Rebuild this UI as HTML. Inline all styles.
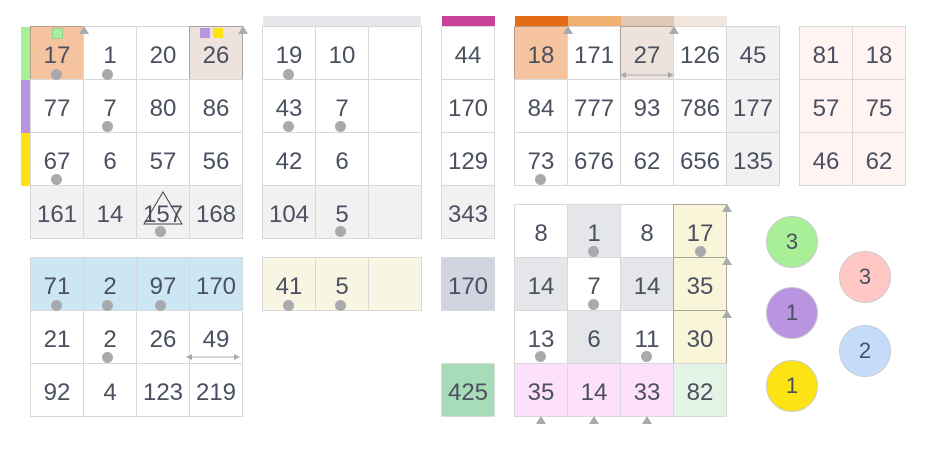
<!DOCTYPE html><html><head><style>
body{margin:0;width:925px;height:450px;background:#fff;position:relative;overflow:hidden;font-family:"Liberation Sans",sans-serif}
.c{position:absolute;width:52px;height:46px;padding-top:6px;border:1px solid #d8d8d8;margin:-1px 0 0 -1px;box-sizing:content-box;display:flex;align-items:center;justify-content:center;font-size:24px;color:#4a5060;line-height:30px}
.d{position:absolute;width:11px;height:11px;border-radius:50%;background:#a8aaad}
.b{position:absolute}
.circ{position:absolute;width:52px;height:52px;border-radius:50%;display:flex;align-items:center;justify-content:center;font-size:22px;color:#4a5060;border:1px solid #ccc;box-sizing:border-box}
.t{position:absolute;width:0;height:0;border-left:5px solid transparent;border-right:5px solid transparent;border-bottom:8px solid #a8aaad}
</style></head><body>
<!-- Grid A -->
<div class="b" style="left:21px;top:27px;width:10px;height:53px;background:#a8ef98"></div>
<div class="b" style="left:21px;top:80px;width:10px;height:53px;background:#b994e0"></div>
<div class="b" style="left:21px;top:133px;width:10px;height:53px;background:#fde314"></div>
<div class="c" style="left:31px;top:27px;background:#f5c49f;border-color:#b89a88">17</div>
<div class="c" style="left:84px;top:27px">1</div>
<div class="c" style="left:137px;top:27px">20</div>
<div class="c" style="left:190px;top:27px;background:#ede3dc;border-color:#a9a39e">26</div>
<div class="c" style="left:31px;top:80px">77</div><div class="c" style="left:84px;top:80px">7</div><div class="c" style="left:137px;top:80px">80</div><div class="c" style="left:190px;top:80px">86</div>
<div class="c" style="left:31px;top:133px">67</div><div class="c" style="left:84px;top:133px">6</div><div class="c" style="left:137px;top:133px">57</div><div class="c" style="left:190px;top:133px">56</div>
<div class="c" style="left:31px;top:186px;background:#f1f1f2">161</div><div class="c" style="left:84px;top:186px;background:#f1f1f2">14</div><div class="c" style="left:137px;top:186px;background:#f1f1f2">157</div><div class="c" style="left:190px;top:186px;background:#f1f1f2">168</div>
<div class="b" style="left:52px;top:28px;width:9px;height:9px;background:#a8ef98;border:1px solid #9c9"></div>
<div class="b" style="left:200px;top:28px;width:10px;height:10px;background:#b994e0"></div>
<div class="b" style="left:213px;top:28px;width:10px;height:10px;background:#fde314"></div>
<div class="t" style="left:79px;top:26px"></div><div class="t" style="left:238px;top:26px"></div>
<svg class="b" style="left:140px;top:190px" width="50" height="40"><polygon points="23,2 4,34 42,34" fill="none" stroke="#444" stroke-width="1"/></svg>
<div class="d" style="left:51px;top:69px"></div><div class="d" style="left:102px;top:69px"></div><div class="d" style="left:102px;top:121px"></div><div class="d" style="left:51px;top:174px"></div><div class="d" style="left:155px;top:226px"></div>
<!-- Grid B -->
<div class="c" style="left:31px;top:258px;background:#cce6f3">71</div><div class="c" style="left:84px;top:258px;background:#cce6f3">2</div><div class="c" style="left:137px;top:258px;background:#cce6f3">97</div><div class="c" style="left:190px;top:258px;background:#cce6f3">170</div>
<div class="c" style="left:31px;top:311px">21</div><div class="c" style="left:84px;top:311px">2</div><div class="c" style="left:137px;top:311px">26</div><div class="c" style="left:190px;top:311px">49</div>
<div class="c" style="left:31px;top:364px">92</div><div class="c" style="left:84px;top:364px">4</div><div class="c" style="left:137px;top:364px">123</div><div class="c" style="left:190px;top:364px">219</div>
<div class="d" style="left:51px;top:300px"></div><div class="d" style="left:102px;top:300px"></div><div class="d" style="left:155px;top:300px"></div><div class="d" style="left:102px;top:352px"></div>
<svg class="b" style="left:186px;top:352px" width="54" height="10"><line x1="3" y1="5" x2="51" y2="5" stroke="#aaa"/><polygon points="0,5 6,2 6,8" fill="#aaa"/><polygon points="54,5 48,2 48,8" fill="#aaa"/></svg>
<!-- Grid C -->
<div class="b" style="left:263px;top:16px;width:158px;height:11px;background:#e6e7ea"></div>
<div class="c" style="left:263px;top:27px">19</div><div class="c" style="left:316px;top:27px">10</div><div class="c" style="left:369px;top:27px"></div>
<div class="c" style="left:263px;top:80px">43</div><div class="c" style="left:316px;top:80px">7</div><div class="c" style="left:369px;top:80px"></div>
<div class="c" style="left:263px;top:133px">42</div><div class="c" style="left:316px;top:133px">6</div><div class="c" style="left:369px;top:133px"></div>
<div class="c" style="left:263px;top:186px;background:#f1f1f2">104</div><div class="c" style="left:316px;top:186px;background:#f1f1f2">5</div><div class="c" style="left:369px;top:186px;background:#f1f1f2"></div>
<div class="d" style="left:283px;top:69px"></div><div class="d" style="left:283px;top:121px"></div><div class="d" style="left:335px;top:121px"></div><div class="d" style="left:335px;top:226px"></div>
<!-- Grid D -->
<div class="c" style="left:263px;top:258px;background:#f8f5e3">41</div><div class="c" style="left:316px;top:258px;background:#f8f5e3">5</div><div class="c" style="left:369px;top:258px;background:#f8f5e3"></div>
<div class="d" style="left:283px;top:300px"></div><div class="d" style="left:335px;top:300px"></div>
<!-- Column E -->
<div class="b" style="left:442px;top:16px;width:53px;height:11px;background:#c8419a"></div>
<div class="c" style="left:442px;top:27px">44</div><div class="c" style="left:442px;top:80px">170</div><div class="c" style="left:442px;top:133px">129</div><div class="c" style="left:442px;top:186px;background:#f1f1f2">343</div>
<div class="c" style="left:442px;top:258px;background:#d0d5e0">170</div>
<div class="c" style="left:442px;top:364px;background:#a8dcb8">425</div>
<!-- Grid F -->
<div class="b" style="left:515px;top:16px;width:53px;height:11px;background:#e36c14"></div>
<div class="b" style="left:568px;top:16px;width:53px;height:11px;background:#f0b070"></div>
<div class="b" style="left:621px;top:16px;width:53px;height:11px;background:#dfc8b8"></div>
<div class="b" style="left:674px;top:16px;width:53px;height:11px;background:#f0e6de"></div>
<div class="c" style="left:515px;top:27px;background:#f5c49f;border-color:#b89a88">18</div><div class="c" style="left:568px;top:27px">171</div><div class="c" style="left:621px;top:27px;background:#ede3dc;border-color:#a9a39e">27</div><div class="c" style="left:674px;top:27px">126</div><div class="c" style="left:727px;top:27px;background:#f1f1f2">45</div>
<div class="c" style="left:515px;top:80px">84</div><div class="c" style="left:568px;top:80px">777</div><div class="c" style="left:621px;top:80px">93</div><div class="c" style="left:674px;top:80px">786</div><div class="c" style="left:727px;top:80px;background:#f1f1f2">177</div>
<div class="c" style="left:515px;top:133px">73</div><div class="c" style="left:568px;top:133px">676</div><div class="c" style="left:621px;top:133px">62</div><div class="c" style="left:674px;top:133px">656</div><div class="c" style="left:727px;top:133px;background:#f1f1f2">135</div>
<div class="t" style="left:563px;top:26px"></div><div class="t" style="left:669px;top:26px"></div>
<svg class="b" style="left:620px;top:70px" width="54" height="10"><line x1="3" y1="5" x2="51" y2="5" stroke="#aaa"/><polygon points="0,5 6,2 6,8" fill="#aaa"/><polygon points="54,5 48,2 48,8" fill="#aaa"/></svg>
<div class="d" style="left:535px;top:174px"></div>
<!-- Grid G -->
<div class="c" style="left:800px;top:27px;background:#fff4f2">81</div><div class="c" style="left:853px;top:27px;background:#fff4f2">18</div>
<div class="c" style="left:800px;top:80px;background:#fff4f2">57</div><div class="c" style="left:853px;top:80px;background:#fff4f2">75</div>
<div class="c" style="left:800px;top:133px;background:#fff4f2">46</div><div class="c" style="left:853px;top:133px;background:#fff4f2">62</div>
<!-- Grid H -->
<div class="c" style="left:515px;top:205px">8</div><div class="c" style="left:568px;top:205px;background:#e5e6ea">1</div><div class="c" style="left:621px;top:205px">8</div><div class="c" style="left:674px;top:205px;background:#f8f5d8;border-color:#a9a69a">17</div>
<div class="c" style="left:515px;top:258px;background:#e5e6ea">14</div><div class="c" style="left:568px;top:258px">7</div><div class="c" style="left:621px;top:258px;background:#e5e6ea">14</div><div class="c" style="left:674px;top:258px;background:#f8f5d8;border-color:#a9a69a">35</div>
<div class="c" style="left:515px;top:311px">13</div><div class="c" style="left:568px;top:311px;background:#e5e6ea">6</div><div class="c" style="left:621px;top:311px">11</div><div class="c" style="left:674px;top:311px;background:#f8f5d8;border-color:#a9a69a">30</div>
<div class="c" style="left:515px;top:364px;background:#fde0fb">35</div><div class="c" style="left:568px;top:364px;background:#fde0fb">14</div><div class="c" style="left:621px;top:364px;background:#fde0fb">33</div><div class="c" style="left:674px;top:364px;background:#e3f3e6">82</div>
<div class="d" style="left:588px;top:246px"></div><div class="d" style="left:695px;top:246px"></div><div class="d" style="left:588px;top:299px"></div><div class="d" style="left:535px;top:351px"></div><div class="d" style="left:641px;top:351px"></div>
<div class="t" style="left:722px;top:204px"></div><div class="t" style="left:722px;top:257px"></div><div class="t" style="left:722px;top:310px"></div>
<div class="t" style="left:536px;top:416px"></div><div class="t" style="left:589px;top:416px"></div><div class="t" style="left:642px;top:416px"></div>
<!-- circles -->
<div class="circ" style="left:766px;top:216px;background:#a8ef98">3</div>
<div class="circ" style="left:766px;top:287px;background:#b994e0">1</div>
<div class="circ" style="left:766px;top:360px;background:#fde314">1</div>
<div class="circ" style="left:839px;top:251px;background:#ffc8c4">3</div>
<div class="circ" style="left:839px;top:325px;background:#c4dcfa">2</div>
</body></html>
